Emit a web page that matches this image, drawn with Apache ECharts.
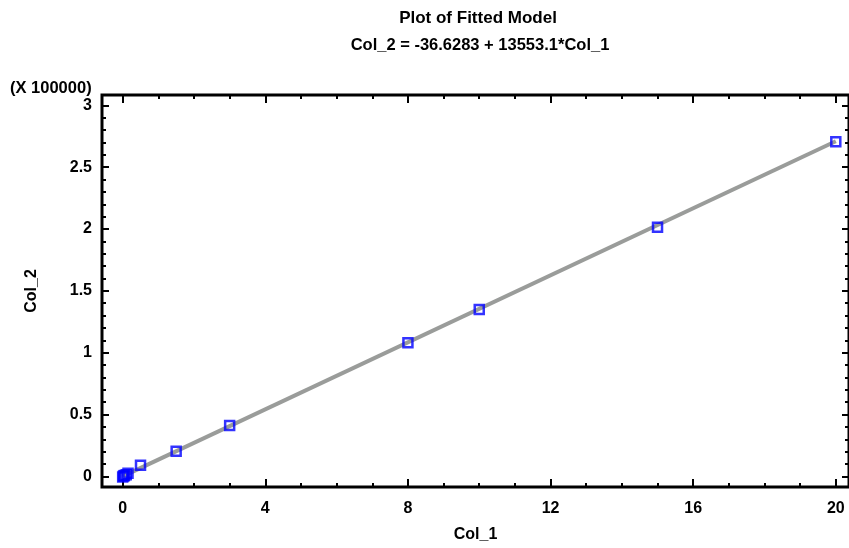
<!DOCTYPE html>
<html>
<head>
<meta charset="utf-8">
<script src="https://cdn.jsdelivr.net/npm/echarts@6/dist/echarts.min.js"></script>
<style>
  html, body { margin: 0; padding: 0; background: #fff; }
  #chart { width: 849px; height: 548px; }
</style>
</head>
<body>
<div id="chart"></div>
<script>
// Observed data (Col_1 vs Col_2)
const col1 = [0, 0.025, 0.05, 0.1, 0.15, 0.5, 1.5, 3, 8, 10, 15, 20];
const col2 = [-500, 300, 700, 1400, 2500, 9000, 20300, 41100, 108000, 135000, 201500, 270500];

// Fitted model end points: Col_2 = -36.6283 + 13553.1*Col_1
const fitX = [0, 20];
const fitY = [-36.6283, 271025.37];

// Tick marks and labels
const xTicks = [0, 4, 8, 12, 16, 20];
const yTicks = [0, 50000, 100000, 150000, 200000, 250000, 300000];
const yScale = 100000;

const titleText = 'Plot of Fitted Model';
const subtitleText = 'Col_2 = -36.6283 + 13553.1*Col_1';
const xName = 'Col_1';
const yName = 'Col_2';
const yMultiplier = '(X 100000)';

// Axis ranges extend slightly past the outer ticks
const xMin = -0.58, xMax = 20.37;
const yMin = -8600, yMax = 308400;

function minors(majors, parts) {
  const out = [];
  for (let i = 0; i < majors.length - 1; i++) {
    const step = (majors[i + 1] - majors[i]) / parts;
    for (let k = 1; k < parts; k++) out.push(majors[i] + step * k);
  }
  return out;
}
const xMinor = minors(xTicks, 4);
const yMinor = minors(yTicks, 5);

const FONT = 'Liberation Sans, Arial, sans-serif';
const labelStyle = { color: '#000', fontFamily: FONT, fontWeight: 'bold', fontSize: 16 };

function xAx(pos, values, len, withLabels) {
  return {
    type: 'value', position: pos, min: xMin, max: xMax,
    axisLine: { show: false, onZero: false },
    splitLine: { show: false },
    axisTick: { show: true, inside: true, length: len, customValues: values,
      lineStyle: { color: '#000', width: 2 } },
    axisLabel: withLabels ? Object.assign({ show: true, customValues: values, margin: 14 }, labelStyle)
                          : { show: false },
    name: withLabels ? xName : '',
    nameLocation: 'middle', nameGap: 40,
    nameTextStyle: labelStyle
  };
}
function yAx(pos, values, len, withLabels) {
  return {
    type: 'value', position: pos, min: yMin, max: yMax,
    axisLine: { show: false, onZero: false },
    splitLine: { show: false },
    axisTick: { show: true, inside: true, length: len, customValues: values,
      lineStyle: { color: '#000', width: 2 } },
    axisLabel: withLabels ? Object.assign({ show: true, customValues: values, margin: 10,
      formatter: v => String(+(v / yScale).toFixed(1)) }, labelStyle)
                          : { show: false },
    name: withLabels ? yName : '',
    nameLocation: 'middle', nameGap: 62, nameRotate: 90,
    nameTextStyle: labelStyle
  };
}

const chart = echarts.init(document.getElementById('chart'), null, { renderer: 'canvas' });
chart.setOption({
  animation: false,
  backgroundColor: '#fff',
  grid: { left: 102, top: 95, width: 748, height: 395, show: true,
    borderColor: '#000', borderWidth: 3, backgroundColor: 'transparent' },
  xAxis: [
    xAx('bottom', xTicks, 8, true),
    xAx('bottom', xMinor, 4, false),
    xAx('top', xTicks, 8, false),
    xAx('top', xMinor, 4, false)
  ],
  yAxis: [
    yAx('left', yTicks, 7, true),
    yAx('left', yMinor, 4, false),
    yAx('right', yTicks, 7, false),
    yAx('right', yMinor, 4, false)
  ],
  graphic: [
    { type: 'text', x: 478, y: 18, style: { text: titleText, textAlign: 'center', textVerticalAlign: 'middle',
      fill: '#000', font: 'bold 17px ' + FONT } },
    { type: 'text', x: 480, y: 45, style: { text: subtitleText, textAlign: 'center', textVerticalAlign: 'middle',
      fill: '#000', font: 'bold 16.5px ' + FONT } },
    { type: 'text', x: 10, y: 88, style: { text: yMultiplier, textAlign: 'left', textVerticalAlign: 'middle',
      fill: '#000', font: 'bold 16.5px ' + FONT } }
  ],
  series: [
    {
      type: 'line', xAxisIndex: 0, yAxisIndex: 0,
      data: fitX.map((x, i) => [x, fitY[i]]),
      showSymbol: false, symbol: 'none',
      lineStyle: { color: '#9a9c9a', width: 4 },
      z: 2
    },
    {
      type: 'scatter', xAxisIndex: 0, yAxisIndex: 0,
      data: col1.map((x, i) => [x, col2[i]]),
      symbol: 'rect', symbolSize: 9,
      itemStyle: { color: 'rgba(0,0,0,0)', borderColor: '#0000ff', borderWidth: 2.5 },
      z: 3
    }
  ]
});
</script>
</body>
</html>
